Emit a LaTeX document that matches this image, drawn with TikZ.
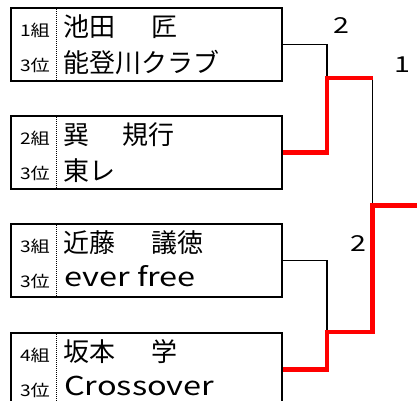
\documentclass[tikz,border=0pt]{standalone}
\usepackage{fontspec}
\setmainfont{Noto Sans CJK JP}
\begin{document}
\begin{tikzpicture}[x=1pt,y=-1pt,
  box/.style={draw=black,line width=2pt,minimum width=271pt,minimum height=73pt,inner sep=0pt,anchor=north west},
  small/.style={font=\fontsize{16}{16}\selectfont,anchor=base,inner sep=0pt},
  big/.style={font=\fontsize{26}{26}\selectfont,anchor=base west,inner sep=0pt},
  wline/.style={line width=1.6pt,black},
  rline/.style={line width=4.5pt,red},
  score/.style={font=\fontsize{22}{22}\selectfont}]
\useasboundingbox (0,0) rectangle (417,400);
\clip (0,0) rectangle (417,400);
% boxes
\node[box] (b1) at (10,7) {};
\node[box] (b2) at (10,115) {};
\node[box] (b3) at (10,223) {};
\node[box] (b4) at (10,332) {};
\foreach \b in {b1,b2,b3,b4}{
  \draw[densely dotted,line width=1pt] ([xshift=46pt]\b.north west) -- ([xshift=46pt]\b.south west);
}
% texts
\foreach \b/\g/\n/\t/\tx in {b1/1/池田/匠/141, b2/2/巽/規行/112, b3/3/近藤/議徳/141, b4/4/坂本/学/141}{
  \node[small] at ([xshift=25pt,yshift=-29pt]\b.north west) {\scalebox{1.2}[1]{\g 組}};
  \node[small] at ([xshift=25pt,yshift=-64pt]\b.north west) {\scalebox{1.2}[1]{3位}};
  \node[big] at ([xshift=53pt,yshift=-29pt]\b.north west) {\n};
  \node[big] at ([xshift=\tx pt,yshift=-29pt]\b.north west) {\t};
}
\node[big] (t1) at ([xshift=53pt,yshift=-65pt]b1.north west) {能登川クラブ};
\node[big] (t2) at ([xshift=53pt,yshift=-65pt]b2.north west) {東レ};
\node[big] (t3) at ([xshift=54pt,yshift=-63pt]b3.north west) {\scalebox{1.25}[1]{ever free}};
\node[big] (t4) at ([xshift=54pt,yshift=-63pt]b4.north west) {\scalebox{1.25}[1]{Crossover}};
% junctions
\coordinate (m1) at (327,78);
\coordinate (m2) at (327,332);
\coordinate (j1) at (372.5,78);
\coordinate (f) at (372.5,205.5);
\coordinate (j2) at (372.5,332);
\coordinate (out) at (417,205.5);
% black lines
\draw[wline] (b1.east) -| (m1);
\draw[wline] (b3.east) -| (m2);
\draw[wline] (j1) -- (f);
% red winner path
\draw[rline] (b2.east) -| (m1) -- (j1);
\draw[rline] (b4.east) -| (m2) -- (j2) -- (f) -- (out);
% scores
\node[score] (s1) at (341.5,26) {\scalebox{1.3}[1]{2}};
\node[score] (s2) at (402,65) {\scalebox{1.3}[1]{1}};
\node[score] (s3) at (358.5,243.5) {\scalebox{1.3}[1]{2}};
\end{tikzpicture}
\end{document}
